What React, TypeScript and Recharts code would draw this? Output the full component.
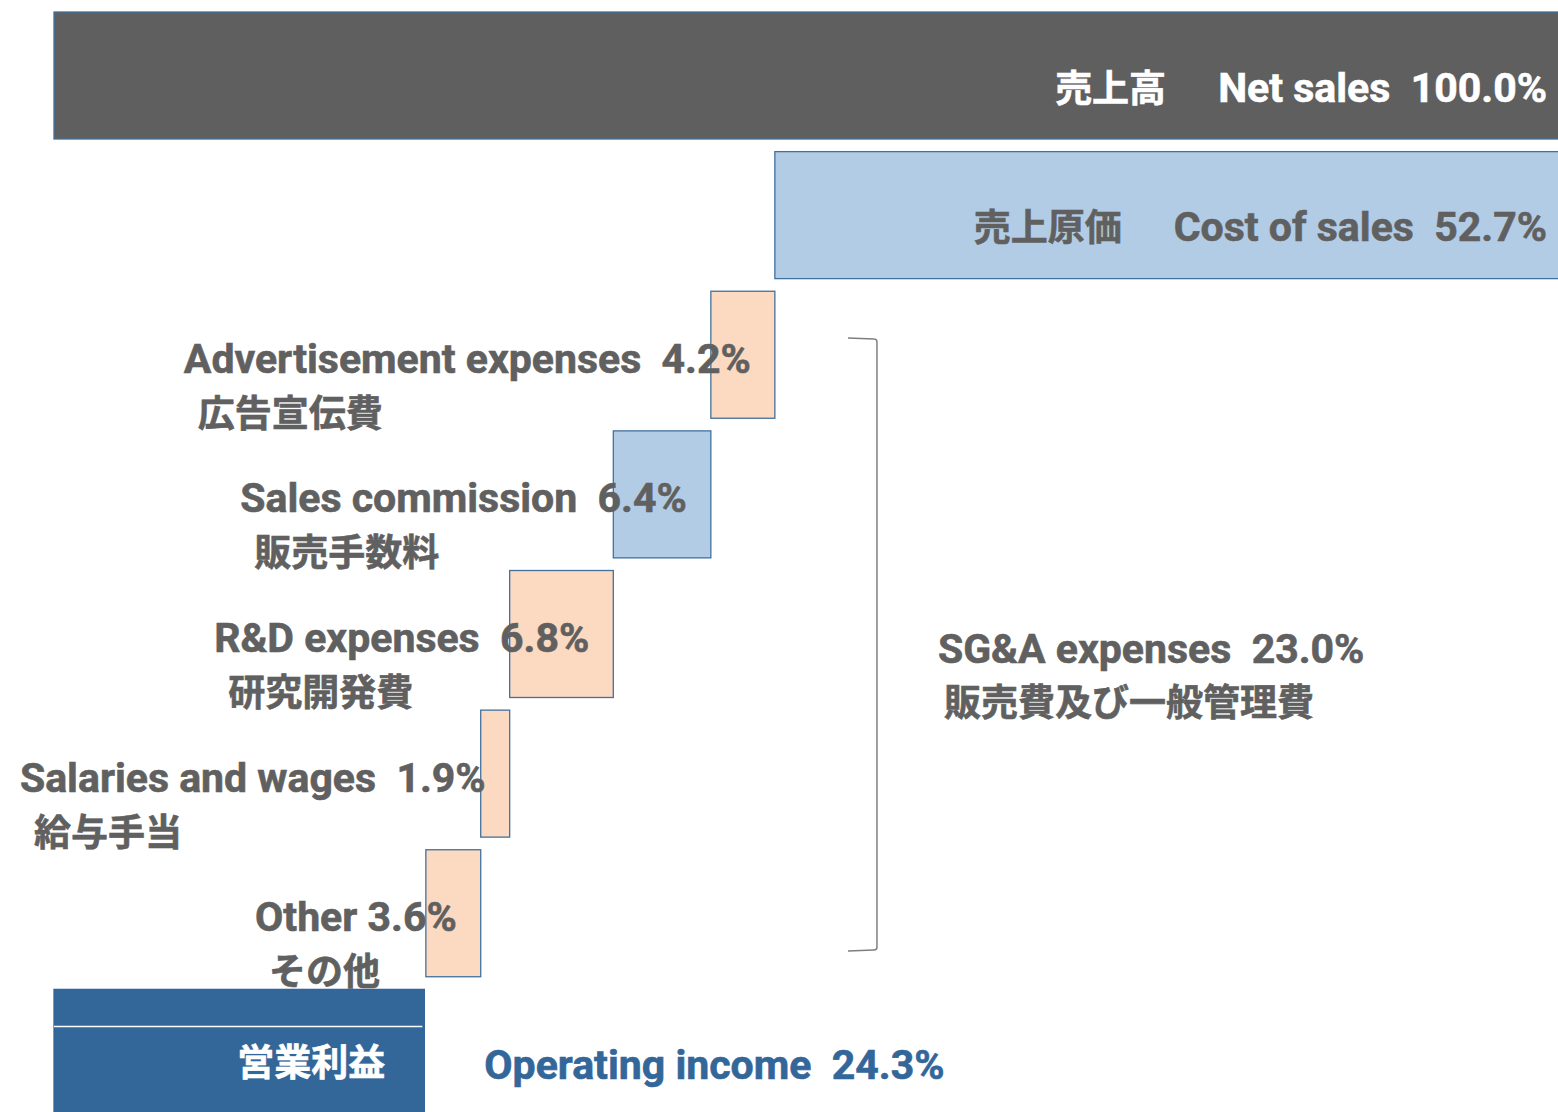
import React from 'react'
import { Bar, BarChart, Customized, LabelList, XAxis, YAxis } from 'recharts'

// 売上高 → 営業利益 のウォーターフォール (売上高 = 100%)
const categories = [
  'Net sales',
  'Cost of sales',
  'Advertisement expenses',
  'Sales commission',
  'R&D expenses',
  'Salaries and wages',
  'Other',
  'Operating income',
]
const jpNames = ['売上高', '売上原価', '広告宣伝費', '販売手数料', '研究開発費', '給与手当', 'その他', '営業利益']
const shares = [100.0, 52.7, 4.2, 6.4, 6.8, 1.9, 3.6, 24.3]
const offsets = [0, 47.3, 43.1, 36.7, 29.9, 28.0, 24.4, 0]
const separators = ['  ', '  ', '  ', '  ', '  ', '  ', ' ', '  ']
const sgaTotal = 23.0
const sgaLabel = 'SG&A expenses'
const sgaJp = '販売費及び一般管理費'

const barColors = ['#5F5F5F', '#B3CCE5', '#FCD9C1', '#B3CCE5', '#FCD9C1', '#FCD9C1', '#FCD9C1', '#336699']
const EDGE = '#41719C'
const TEXT = '#606060'
const BLUE_TEXT = '#336699'
const FONT = 'Roboto, "Noto Sans CJK JP", sans-serif'
const EN_SIZE = 41
const JP_SIZE = 37

const rows = categories.map((name, i) => ({
  name,
  idx: i,
  base: offsets[i],
  value: shares[i],
}))

const engText = (i: number) => `${categories[i]}${separators[i]}${shares[i].toFixed(1)}%`

let ctx: CanvasRenderingContext2D | null = null
const measure = (t: string) => {
  if (!ctx) ctx = document.createElement('canvas').getContext('2d')
  if (!ctx) return t.length * EN_SIZE * 0.47
  ctx.font = `700 ${EN_SIZE}px ${FONT}`
  return ctx.measureText(t).width
}

const txt = (fill: string, size: number) => ({
  fill,
  stroke: fill,
  strokeWidth: 0.6,
  fontFamily: FONT,
  fontSize: size,
  fontWeight: 700,
  style: { whiteSpace: 'pre' as const },
})

const ValueShape = (props: any) => {
  const { x, y, width, height, payload } = props
  const i = payload.idx
  const fill = barColors[i]
  return (
    <g>
      <rect x={x} y={y} width={width} height={height} fill={fill} stroke={i === 7 ? fill : EDGE} strokeWidth={1.3} />
      {i === 7 && <line x1={x} x2={x + width - 2} y1={y + 37} y2={y + 37} stroke="#fff" strokeWidth={1.5} />}
    </g>
  )
}

const renderLabel = (props: any) => {
  const { x, y, width, height, index } = props
  const right = x + width
  const cy = y + height / 2

  if (index === 0 || index === 1) {
    const fill = index === 0 ? '#fff' : TEXT
    return (
      <text x={right - 31} y={cy + 26} textAnchor="end" {...txt(fill, EN_SIZE)}>
        <tspan fontSize={JP_SIZE}>{jpNames[index]}</tspan>
        <tspan dx={52}>{engText(index)}</tspan>
      </text>
    )
  }
  if (index === 7) {
    return (
      <g>
        <text x={right - 39} y={cy + 23} textAnchor="end" {...txt('#fff', JP_SIZE)}>
          {jpNames[index]}
        </text>
        <text x={right + 60} y={cy + 26} textAnchor="start" {...txt(BLUE_TEXT, EN_SIZE)}>
          {engText(index)}
        </text>
      </g>
    )
  }
  const eng = engText(index)
  const end = right - 24
  const start = end - measure(eng)
  return (
    <g>
      <text x={end} y={cy + 18} textAnchor="end" {...txt(TEXT, EN_SIZE)}>
        {eng}
      </text>
      <text x={start + 14} y={cy + 72} textAnchor="start" {...txt(TEXT, JP_SIZE)}>
        {jpNames[index]}
      </text>
    </g>
  )
}

// 販管費の括弧と注記
const PX = 15.24
const X0 = 54
const SgaBracket = () => {
  const bx = X0 + 54.0 * PX
  const lx = X0 + 52.1 * PX
  const top = 338
  const bottom = 951
  const tx = X0 + 58.0 * PX
  return (
    <g>
      <path
        d={`M${lx},${top} L${bx - 3},${top + 1} Q${bx},${top + 1} ${bx},${top + 4} L${bx},${bottom - 4} Q${bx},${bottom - 1} ${bx - 3},${bottom - 1} L${lx},${bottom}`}
        fill="none"
        stroke="#7F7F7F"
        strokeWidth={1.5}
      />
      <text x={tx} y={663} {...txt(TEXT, EN_SIZE)}>
        {`${sgaLabel}  ${sgaTotal.toFixed(1)}%`}
      </text>
      <text x={tx + 6} y={716} {...txt(TEXT, JP_SIZE)}>
        {sgaJp}
      </text>
    </g>
  )
}

export default function App() {
  return (
    <div
      style={{
        position: 'fixed',
        left: 0,
        top: 0,
        width: 1558,
        height: 1112,
        overflow: 'hidden',
        background: '#fff',
      }}
    >
      <BarChart
        width={1600}
        height={1130}
        data={rows}
        layout="vertical"
        margin={{ top: 6, right: 22, bottom: 7, left: 54 }}
        barCategoryGap={0}
      >
        <XAxis type="number" domain={[0, 100]} hide />
        <YAxis
          type="category"
          dataKey="name"
          width={0}
          tick={false}
          tickLine={false}
          axisLine={{ stroke: '#3F6A9E', strokeWidth: 1.5 }}
        />
        <Bar dataKey="base" stackId="a" fill="transparent" barSize={127} isAnimationActive={false} />
        <Bar dataKey="value" stackId="a" barSize={127} shape={ValueShape} isAnimationActive={false}>
          <LabelList dataKey="value" content={renderLabel} />
        </Bar>
        <Customized component={SgaBracket} />
      </BarChart>
    </div>
  )
}
